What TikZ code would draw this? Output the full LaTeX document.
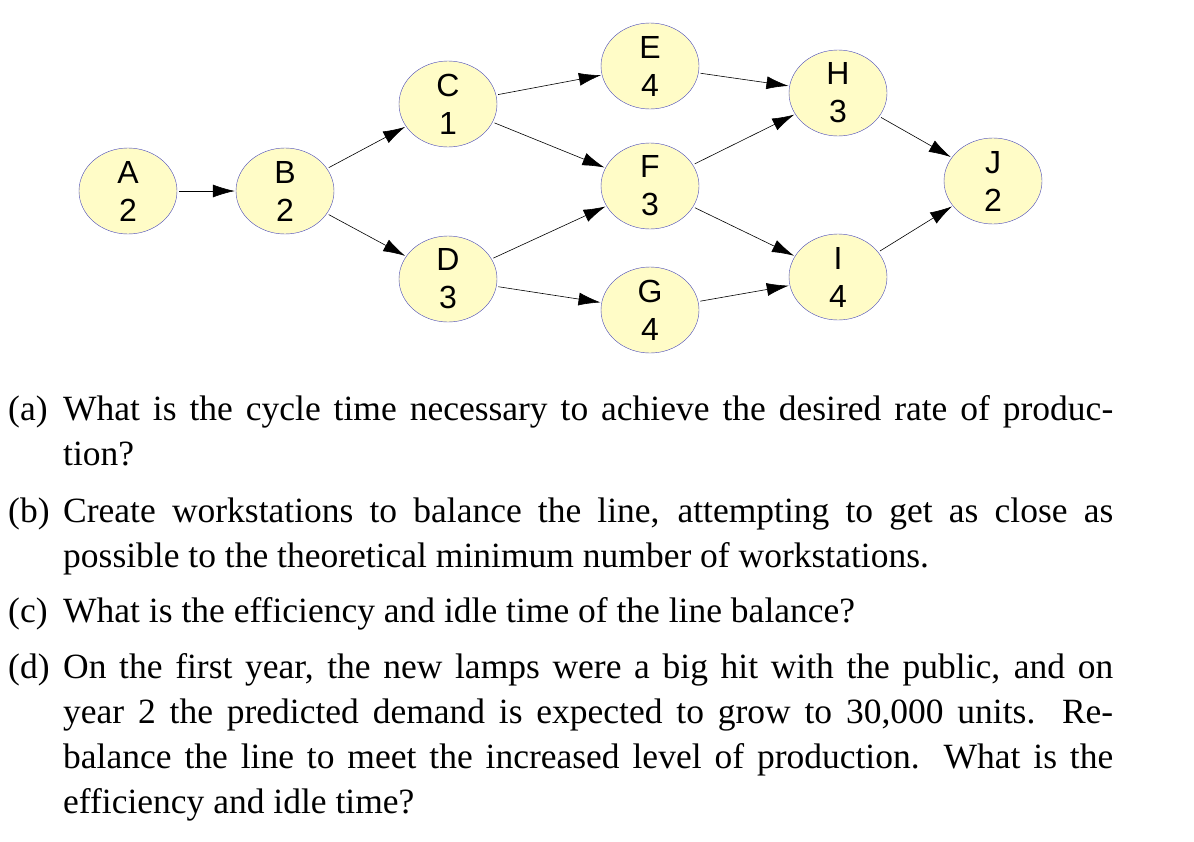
\documentclass[tikz,border=0pt]{standalone}
\usepackage{fontspec}
\setmainfont{Liberation Serif}
\newfontfamily\sansf{Liberation Sans}
\usetikzlibrary{shapes.geometric,arrows.meta}
\begin{document}
\begin{tikzpicture}[x=1pt,y=-1pt,
  task/.style={ellipse,draw=blue!45!gray,fill=yellow!22,minimum width=98pt,minimum height=86pt,inner sep=0pt,align=center,font=\sansf\fontsize{32}{38}\selectfont},
  arr/.style={-{Latex[length=22pt,width=13pt]},line width=0.6pt,shorten <=2pt,shorten >=1pt},
  lab/.style={anchor=base west,inner sep=0pt,font=\fontsize{35.5}{45}\selectfont},
  item/.style={anchor=base west,inner sep=0pt,text width=1050pt,align=justify,font=\fontsize{35.5}{45}\selectfont}]
\useasboundingbox (0,0) rectangle (1194,841);
\node[task] (A) at (128,191) {A\\2};
\node[task] (B) at (285,191) {B\\2};
\node[task] (C) at (448,104) {C\\1};
\node[task] (D) at (448,279) {D\\3};
\node[task] (E) at (650,66) {E\\4};
\node[task] (F) at (650,186) {F\\3};
\node[task] (G) at (650,310) {G\\4};
\node[task] (H) at (838,93) {H\\3};
\node[task] (I) at (838,277) {I\\4};
\node[task] (J) at (993,181) {J\\2};
\draw[arr] (A) -- (B);
\draw[arr] (B) -- (C);
\draw[arr] (B) -- (D);
\draw[arr] (C) -- (E);
\draw[arr] (C) -- (F);
\draw[arr] (D) -- (F);
\draw[arr] (D) -- (G);
\draw[arr] (E) -- (H);
\draw[arr] (F) -- (H);
\draw[arr] (F) -- (I);
\draw[arr] (G) -- (I);
\draw[arr] (H) -- (J);
\draw[arr] (I) -- (J);
\node[lab] (la) at (8,420) {(a)};
\node[item] (ta) at (63,420) {What is the cycle time necessary to achieve the desired rate of produc-\linebreak tion?};
\node[lab] (lb) at (8,522) {(b)};
\node[item] (tb) at (63,522) {Create workstations to balance the line, attempting to get as close as\linebreak possible to the theoretical minimum number of workstations.};
\node[lab] (lc) at (8,622) {(c)};
\node[item] (tc) at (63,622) {What is the efficiency and idle time of the line balance?};
\node[lab] (ld) at (8,678) {(d)};
\node[item] (td) at (63,678) {On the first year, the new lamps were a big hit with the public, and on\linebreak year 2 the predicted demand is expected to grow to 30,000 units. Re-\linebreak balance the line to meet the increased level of production. What is the\linebreak efficiency and idle time?};
\end{tikzpicture}
\end{document}
